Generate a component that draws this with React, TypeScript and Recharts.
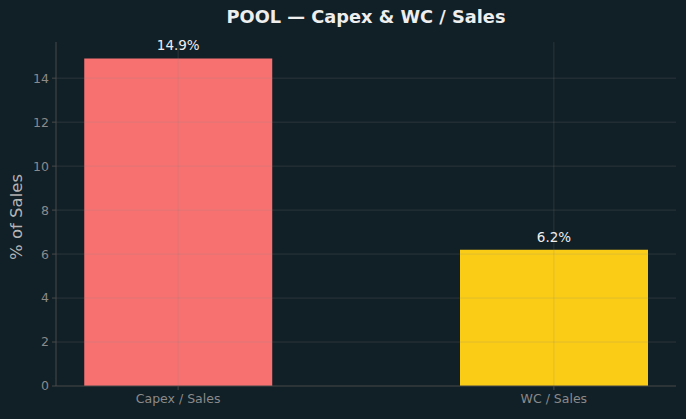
import { Bar, BarChart, Cell, LabelList, ReferenceLine, XAxis, YAxis } from 'recharts'

// Capex & working capital as a share of sales
const categories = ['Capex / Sales', 'WC / Sales']
const values = [14.9, 6.2]
const barColors = ['#f87171', '#facc15']
const yTicks = [0, 2, 4, 6, 8, 10, 12, 14]

const data = categories.map((name, i) => ({ x: i, name, value: values[i] }))

const FONT = 'DejaVu Sans, sans-serif'
const BG = '#111f26'
const GRID = 'rgba(138,138,138,0.22)'

if (typeof document !== 'undefined') {
  document.body.style.margin = '0'
  document.body.style.background = BG
}

export default function App() {
  return (
    <div style={{ position: 'relative', width: 686, height: 419, background: BG, fontFamily: FONT }}>
      <div
        style={{
          position: 'absolute',
          left: 0,
          width: 732,
          top: 6,
          textAlign: 'center',
          color: '#eeeeee',
          fontWeight: 'bold',
          fontSize: 17.8,
        }}
      >
        POOL — Capex &amp; WC / Sales
      </div>
      <BarChart
        width={686}
        height={419}
        data={data}
        margin={{ top: 42, right: 10, bottom: 0, left: 0 }}
        style={{ position: 'absolute', left: 0, top: 0 }}
      >
        <XAxis
          dataKey='x'
          type='number'
          domain={[-0.325, 1.325]}
          ticks={[0, 1]}
          tickFormatter={(v: number) => categories[v] ?? ''}
          height={33}
          stroke='#4a4a4a'
          tick={{ fill: '#8a8a8a', fontSize: 12.5, fontFamily: FONT }}
          tickSize={4}
          tickMargin={4}
        />
        <YAxis
          type='number'
          domain={[0, 15.645]}
          ticks={yTicks}
          width={56}
          stroke='#4a4a4a'
          tick={{ fill: '#8a8a8a', fontSize: 12.5, fontFamily: FONT }}
          tickSize={4}
          tickMargin={3}
          label={{
            value: '% of Sales',
            angle: -90,
            position: 'insideLeft',
            offset: 16,
            dy: 3,
            style: { textAnchor: 'middle', fill: '#b5b5b5', fontSize: 16.5, fontFamily: FONT },
          }}
        />
        <Bar dataKey='value' barSize={188} isAnimationActive={false}>
          {data.map((d, i) => (
            <Cell key={d.name} fill={barColors[i]} />
          ))}
          <LabelList
            dataKey='value'
            position='top'
            offset={8}
            formatter={(v: number) => `${v}%`}
            style={{ fill: '#eeeeee', fontSize: 13.5, fontFamily: FONT }}
          />
        </Bar>
        {yTicks.slice(1).map((t) => (
          <ReferenceLine key={`y${t}`} y={t} stroke={GRID} strokeWidth={1} />
        ))}
        {data.map((d) => (
          <ReferenceLine key={`x${d.x}`} x={d.x} stroke={GRID} strokeWidth={1} />
        ))}
      </BarChart>
    </div>
  )
}
